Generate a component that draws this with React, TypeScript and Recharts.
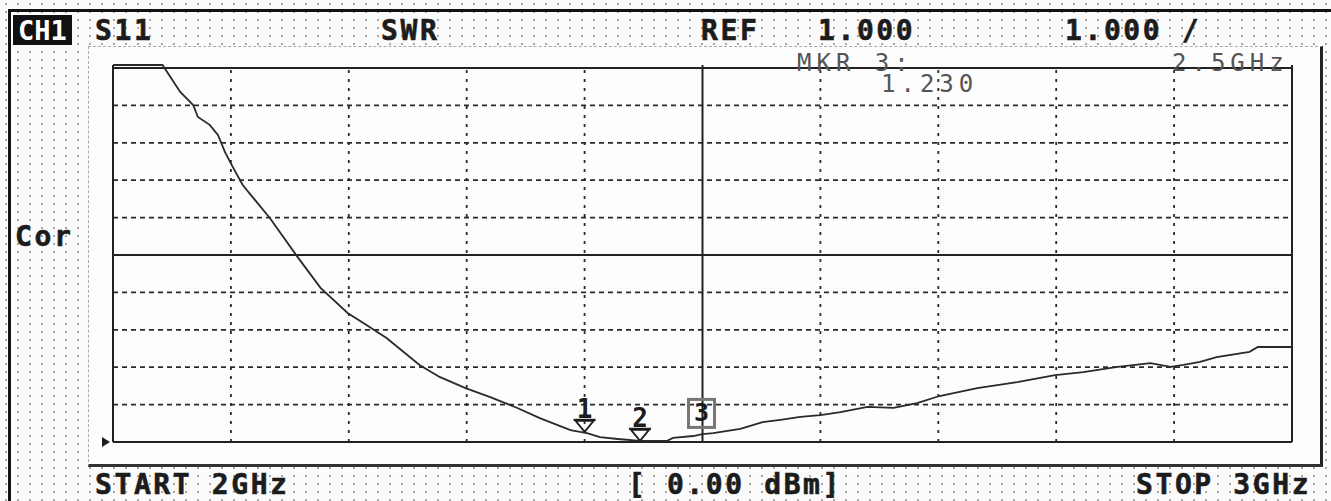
import React from "react";
import {
    ComposedChart,
    Line,
    Scatter,
    XAxis,
    YAxis,
    ReferenceLine,
    ReferenceDot
} from "recharts";

// trace: frequency in GHz, SWR
const freqGHz = [
    2.0, 2.042, 2.057, 2.068, 2.072, 2.082, 2.089, 2.095, 2.102, 2.11,
    2.133, 2.156, 2.176, 2.199, 2.215, 2.232, 2.26, 2.277, 2.299, 2.32,
    2.343, 2.362, 2.388, 2.402, 2.413, 2.428, 2.447, 2.47, 2.475, 2.492,
    2.5, 2.509, 2.532, 2.551, 2.566, 2.583, 2.6, 2.617, 2.64, 2.662,
    2.682, 2.701, 2.733, 2.767, 2.799, 2.823, 2.852, 2.88, 2.897, 2.908,
    2.922, 2.936, 2.964, 2.971, 3.0
];
const swrValues = [
    11.08, 11.08, 10.36, 10.01, 9.69, 9.48, 9.21, 8.75, 8.33, 7.87,
    6.99, 5.97, 5.12, 4.45, 4.13, 3.78, 3.06, 2.74, 2.44, 2.2,
    1.91, 1.64, 1.32, 1.24, 1.13, 1.08, 1.03, 1.03, 1.11, 1.16,
    1.21, 1.24, 1.35, 1.53, 1.59, 1.67, 1.72, 1.8, 1.94, 1.91,
    2.04, 2.23, 2.44, 2.6, 2.79, 2.87, 3.01, 3.11, 3.01, 3.06,
    3.14, 3.27, 3.41, 3.54, 3.54
];

const markerLabels = ["1", "2", "3"];
const markerFreq = [2.4, 2.447, 2.5];
const markerSwr = [1.27, 1.03, 1.23];

// graticule: 10 x 10 divisions, REF 1.000, 1.000 / div
const xGrid = [2.1, 2.2, 2.3, 2.4, 2.6, 2.7, 2.8, 2.9];
const yGrid = [2, 3, 4, 5, 7, 8, 9, 10];
const xSolid = [2, 2.5, 3];
const ySolid = [1, 6, 11];

const data = freqGHz.map((f, i) => ({ f, swr: swrValues[i] }));
const markers = markerLabels.map((label, i) => ({ f: markerFreq[i], swr: markerSwr[i], label }));

const mono = "'DejaVu Sans Mono', 'Liberation Mono', monospace";
const ink = "#1c1c1c";

function MarkerShape(props: any) {
    const { cx, cy, payload } = props;
    if (payload.label === "3") {
        return (
            <g>
                <rect x={cx - 14} y={cy - 34} width={26} height={28} fill="none" stroke="#777" strokeWidth={3} />
                <text x={cx - 1} y={cy - 12} textAnchor="middle" fontFamily={mono} fontWeight="bold" fontSize={25} fill={ink}>3</text>
            </g>
        );
    }
    return (
        <g>
            <text x={cx} y={cy - 14} textAnchor="middle" fontFamily={mono} fontWeight="bold" fontSize={26} fill={ink}>{payload.label}</text>
            <line x1={cx - 11} x2={cx + 11} y1={cy - 12} y2={cy - 12} stroke={ink} strokeWidth={2.2} />
            <polygon points={`${cx - 9},${cy - 11} ${cx + 9},${cy - 11} ${cx},${cy}`} fill="none" stroke={ink} strokeWidth={1.8} />
        </g>
    );
}

function RefArrow(props: any) {
    const { cx, cy } = props;
    return <polygon points={`${cx - 11},${cy - 5} ${cx - 11},${cy + 5} ${cx - 3},${cy}`} fill={ink} />;
}

function T(props: { x: number; y: number; children: React.ReactNode; size?: number; ls?: number; weight?: string; fill?: string }) {
    return (
        <text
            x={props.x}
            y={props.y}
            fontFamily={mono}
            fontSize={props.size ?? 28}
            fontWeight={props.weight ?? "bold"}
            letterSpacing={props.ls ?? 2.6}
            fill={props.fill ?? ink}
            stroke={props.weight === "normal" ? "none" : ink}
            strokeWidth={props.weight === "normal" ? 0 : 0.6}
        >
            {props.children}
        </text>
    );
}

export default function App() {
    return (
        <div
            style={{
                position: "absolute",
                left: 0,
                top: 0,
                width: 1331,
                height: 501,
                overflow: "hidden",
                backgroundColor: "#fbfbfb",
                backgroundImage: "radial-gradient(circle, #a8a8a8 0.9px, transparent 1.3px)",
                backgroundSize: "12px 8px"
            }}
        >
            {/* outer frame */}
            <div style={{ position: "absolute", left: 8, top: 9, width: 1323, height: 3, background: "#111" }} />
            <div style={{ position: "absolute", left: 8, top: 9, width: 3, height: 492, background: "#111" }} />
            {/* white measurement panel */}
            <div
                style={{
                    position: "absolute",
                    left: 88,
                    top: 46,
                    width: 1231,
                    height: 417,
                    background: "#fdfdfd",
                    borderTop: "1px dashed #aaa",
                    borderLeft: "1px dashed #aaa",
                    borderRight: "3px solid #222",
                    borderBottom: "3px solid #333"
                }}
            />
            <div style={{ position: "absolute", left: 0, top: 0 }}>
                <ComposedChart width={1331} height={501} data={data} margin={{ top: 65, right: 39, bottom: 59, left: 113 }}>
                    <XAxis type="number" dataKey="f" domain={[2, 3]} hide />
                    <YAxis type="number" domain={[1, 11.08]} hide />
                    {xGrid.map((v) => (
                        <ReferenceLine key={"x" + v} x={v} stroke="#2a2a2a" strokeWidth={1.8} strokeDasharray="3 6" />
                    ))}
                    {yGrid.map((v) => (
                        <ReferenceLine key={"y" + v} y={v} stroke="#2a2a2a" strokeWidth={1.7} strokeDasharray="5 4" />
                    ))}
                    {xSolid.map((v) => (
                        <ReferenceLine key={"xs" + v} x={v} stroke="#222" strokeWidth={2} />
                    ))}
                    {ySolid.map((v) => (
                        <ReferenceLine key={"ys" + v} y={v} stroke="#222" strokeWidth={2} />
                    ))}
                    <Line
                        type="linear"
                        dataKey="swr"
                        stroke="#2a2a2a"
                        strokeWidth={1.8}
                        dot={false}
                        isAnimationActive={false}
                    />
                    <Scatter data={markers} dataKey="swr" shape={<MarkerShape />} isAnimationActive={false} />
                    <ReferenceDot x={2} y={1} r={5} shape={<RefArrow />} />
                </ComposedChart>
            </div>
            {/* annotation text */}
            <svg width={1331} height={501} style={{ position: "absolute", left: 0, top: 0, pointerEvents: "none" }}>
                <rect x={13} y={15} width={59} height={30} fill="#111" />
                <text x={42.5} y={40} textAnchor="middle" fontFamily={mono} fontWeight="bold" fontSize={27} fill="#fff">CH1</text>
                <T x={95} y={40}>S11</T>
                <T x={381} y={40}>SWR</T>
                <T x={701} y={40}>REF</T>
                <T x={818} y={40}>1.000</T>
                <T x={1065} y={40}>1.000 /</T>
                <T x={15} y={246}>Cor</T>
                <T x={797} y={71} size={24} weight="normal" ls={5} fill="#555">MKR  3:</T>
                <T x={1172} y={71} size={24} weight="normal" ls={5} fill="#555">2.5GHz</T>
                <T x={881} y={92} size={24} weight="normal" ls={5} fill="#555">1.230</T>
                <T x={95} y={494}>START 2GHz</T>
                <T x={628} y={494}>[ 0.00 dBm]</T>
                <T x={1136} y={494}>STOP 3GHz</T>
            </svg>
        </div>
    );
}
